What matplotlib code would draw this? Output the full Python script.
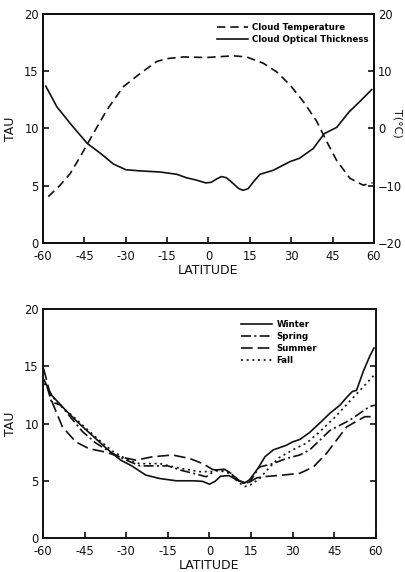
import matplotlib
matplotlib.use("Agg")
import matplotlib.pyplot as plt

plt.rcParams['font.family'] = ['DejaVu Sans']

# ---- annual mean: cloud optical thickness (left axis) and cloud temperature (right axis)
tau_lat = [-59, -55, -50, -44, -39, -34.5, -30, -25, -17.5, -11.5, -8, -4.5, -1, 1, 3,
           4.7, 6.5, 8, 9.6, 11, 12.6, 14.4, 16.5, 18.7, 23.5, 29.5, 33, 38, 42, 46.5,
           51, 55.5, 59.2]
tau_annual = [13.7, 11.9, 10.4, 8.7, 7.8, 6.9, 6.4, 6.3, 6.2, 6.0, 5.7, 5.5, 5.25, 5.3, 5.6,
              5.8, 5.7, 5.4, 5.05, 4.75, 4.6, 4.75, 5.4, 6.0, 6.35, 7.1, 7.4, 8.25, 9.55, 10.1,
              11.45, 12.5, 13.4]

temp_lat = [-58.1, -53.8, -50.2, -46.6, -41.8, -36.9, -30.9, -24.8, -18.8, -15.2, -9.1,
            -0.7, 9.0, 13.8, 19.9, 24.7, 29.6, 34.4, 39.2, 42.8, 46.5, 51.3, 56.1, 59.5]
temp_c = [-11.9, -9.9, -7.9, -5.0, -0.9, 3.2, 7.3, 9.6, 11.7, 12.2, 12.5,
          12.4, 12.7, 12.5, 11.4, 9.9, 7.6, 4.7, 1.3, -2.2, -5.6, -8.7, -9.9, -9.5]

# ---- seasonal optical thickness
winter_lat = [-59.6, -57, -52, -47, -42, -37, -32, -28, -23, -18, -12, -6, -2.5, 0, 2, 4,
              7, 9.6, 12.6, 14.5, 17.5, 20, 23, 27.7, 30, 32.5, 36, 40, 43.4, 47, 49.5,
              51.5, 53, 55.5, 57.8, 59.3]
winter = [13.8, 12.5, 11.2, 10.0, 8.9, 7.8, 6.8, 6.3, 5.5, 5.2, 5.0, 5.0, 4.95, 4.7, 4.95, 5.4,
          5.45, 5.1, 4.8, 5.1, 6.1, 7.1, 7.7, 8.1, 8.4, 8.6, 9.2, 10.1, 10.9, 11.6, 12.3,
          12.8, 12.9, 14.6, 15.9, 16.6]

spring_lat = [-58.5, -57, -53.6, -50.6, -45.8, -41, -35, -30, -25, -20, -15, -10, -5, -1.2,
              2.4, 5, 7.5, 10.5, 12.5, 14.5, 18, 22.9, 27.7, 32.5, 36.1, 39.8, 43.4, 47,
              50.6, 54.2, 57.8, 59.6]
spring = [13.2, 11.9, 11.6, 10.7, 9.3, 8.3, 7.4, 6.8, 6.3, 6.3, 6.3, 5.9, 5.6, 5.35,
          5.95, 6.0, 5.7, 5.0, 4.75, 4.9, 6.2, 6.5, 6.95, 7.25, 7.7, 8.55, 9.4, 9.85,
          10.3, 10.9, 11.5, 11.6]

summer_lat = [-59.8, -56.6, -53, -48.2, -43.4, -37.3, -32.5, -26.5, -20.5, -13.3, -7.2, -2.4,
              1, 3, 5.5, 8, 10.8, 12.6, 14.5, 17, 19.2, 26.5, 32.5, 37.4, 42.2, 45.8, 49.4,
              53, 56, 60]
summer = [14.8, 11.8, 9.7, 8.4, 7.8, 7.5, 7.1, 6.8, 7.1, 7.25, 6.95, 6.5,
          6.0, 5.9, 6.0, 5.6, 5.0, 4.85, 4.9, 5.25, 5.35, 5.5, 5.65, 6.2, 7.4, 8.55, 9.7,
          10.2, 10.6, 10.6]

fall_lat = [-59.5, -55, -50, -45, -40, -35, -30, -25.3, -18, -10.8, -3.6, 1.2, 3.6, 7.2, 10.8,
            12.7, 14.5, 18.1, 21.7, 25, 30, 35, 39.8, 45, 50, 55, 60]
fall = [13.5, 11.8, 10.8, 9.7, 8.6, 7.6, 6.9, 6.5, 6.5, 6.1, 5.8, 5.8, 5.9, 5.65, 4.8,
        4.5, 4.6, 5.2, 6.2, 7.0, 7.7, 8.3, 9.3, 10.5, 11.8, 13.1, 14.4]

lat_ticks = [-60, -45, -30, -15, 0, 15, 30, 45, 60]
tau_ticks = [0, 5, 10, 15, 20]
temp_ticks = [-20, -10, 0, 10, 20]

INK = '#111111'
LW = 1.2
TICK_FS = 8.3
LABEL_FS = 9
LEG_FS = 6.2


def style_axes(ax):
    for side in ('left', 'right', 'bottom', 'top'):
        ax.spines[side].set_linewidth(1.4)
        ax.spines[side].set_color(INK)
    ax.set_xlim(-60, 60)
    ax.set_ylim(0, 20)
    ax.set_xticks(lat_ticks)
    ax.set_xticklabels([str(v) for v in lat_ticks])
    ax.set_yticks(tau_ticks)
    ax.tick_params(axis='both', direction='in', length=4, width=1.2, colors=INK,
                   labelsize=TICK_FS, top=False)
    ax.tick_params(axis='x', pad=5)
    ax.tick_params(axis='y', pad=3)
    ax.set_xlabel('LATITUDE', fontsize=LABEL_FS, labelpad=1, color=INK)
    ax.set_ylabel('TAU', fontsize=LABEL_FS, labelpad=5, color=INK)


fig = plt.figure(figsize=(4.06, 5.72), dpi=100)

# ---- upper panel
ax1 = fig.add_axes([0.106, 0.5752, 0.815, 0.4003])
style_axes(ax1)
ax2 = ax1.twinx()
ax2.set_ylim(-20, 20)
ax2.set_yticks(temp_ticks)
ax2.tick_params(axis='y', direction='in', length=4, width=1.2, colors=INK,
                labelsize=TICK_FS, pad=3)
for side in ('left', 'right', 'bottom', 'top'):
    ax2.spines[side].set_linewidth(1.4)
fig.text(0.978, 0.785, 'T(°C)', fontsize=8, rotation=270, color=INK,
         ha='center', va='center')

l_temp, = ax2.plot(temp_lat, temp_c, color=INK, lw=LW, dashes=(5, 3))
l_tau, = ax1.plot(tau_lat, tau_annual, color=INK, lw=LW)
ax1.set_zorder(ax2.get_zorder() + 1)
ax1.patch.set_visible(False)
ax1.legend([l_temp, l_tau], ['Cloud Temperature', 'Cloud Optical Thickness'],
           loc='upper right', bbox_to_anchor=(1.0, 0.985), frameon=False,
           prop={'size': LEG_FS, 'weight': 'bold'}, handlelength=3.6,
           handletextpad=0.5, labelspacing=0.45, borderaxespad=0.2)

# ---- lower panel
ax3 = fig.add_axes([0.106, 0.0594, 0.820, 0.4003])
style_axes(ax3)
ax3.tick_params(axis='y', right=True)
ax3.plot(winter_lat, winter, color=INK, lw=LW, label='Winter')
ax3.plot(spring_lat, spring, color=INK, lw=LW, dashes=(6, 2, 1.2, 2), label='Spring')
ax3.plot(summer_lat, summer, color=INK, lw=LW, dashes=(7, 3), label='Summer')
ax3.plot(fall_lat, fall, color=INK, lw=LW, dashes=(1.2, 2.2), label='Fall')
ax3.legend(loc='upper left', bbox_to_anchor=(0.58, 0.975), frameon=False,
           prop={'size': LEG_FS, 'weight': 'bold'}, handlelength=3.6,
           handletextpad=0.5, labelspacing=0.35, borderaxespad=0.2)

fig.savefig('out.png', dpi=100)
